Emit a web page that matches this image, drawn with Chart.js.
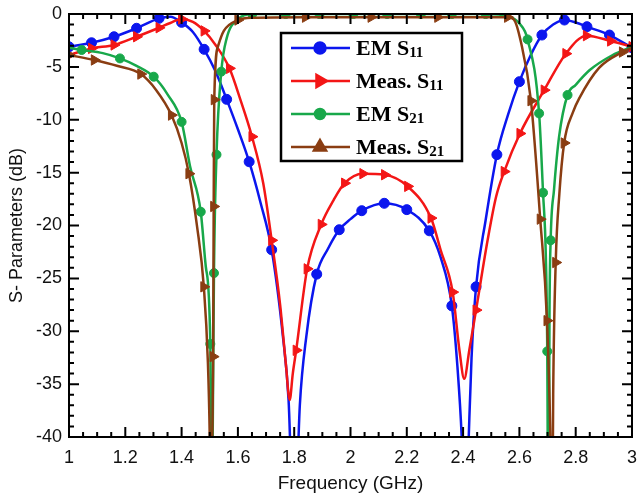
<!DOCTYPE html>
<html>
<head>
<meta charset="utf-8">
<script src="https://cdn.jsdelivr.net/npm/chart.js@4.4.0/dist/chart.umd.min.js"></script>
<style>
  html, body { margin: 0; padding: 0; background: #fff; }
  #wrap { width: 639px; height: 500px; }
</style>
</head>
<body>
<div id="wrap"><canvas id="sparams" width="639" height="500"></canvas></div>
<script>
// values, frequency in GHz, magnitude in dB
var emS11Freq = [1.00, 1.08, 1.16, 1.24, 1.32, 1.36, 1.40, 1.44, 1.48, 1.52, 1.56, 1.60, 1.64, 1.68, 1.72, 1.76, 1.78, 1.80, 1.82, 1.843, 1.88, 1.92, 1.96, 2.00, 2.04, 2.12, 2.20, 2.28, 2.32, 2.36, 2.38, 2.395, 2.408, 2.42, 2.43, 2.446, 2.48, 2.52, 2.56, 2.60, 2.64, 2.68, 2.72, 2.76, 2.80, 2.84, 2.92, 3.00];
var emS11Db   = [-3.1, -2.72, -2.15, -1.35, -0.41, -0.25, -0.79, -1.7, -3.34, -5.4, -8.07, -10.9, -13.97, -17.8, -22.3, -30.5, -36.5, -50, -37, -30.5, -24.6, -22.2, -20.4, -19.4, -18.6, -17.9, -18.5, -20.5, -23, -27.6, -33.4, -40, -50, -40, -32.5, -25.8, -19.5, -13.3, -9.5, -6.4, -3.9, -1.99, -1.0, -0.57, -0.8, -1.2, -1.99, -3.19];
var emS11Marks = [1.00, 1.08, 1.16, 1.24, 1.32, 1.40, 1.48, 1.56, 1.64, 1.72, 1.88, 1.96, 2.04, 2.12, 2.20, 2.28, 2.36, 2.446, 2.52, 2.60, 2.68, 2.76, 2.84, 2.92, 3.00];

var measS11Freq = [1.00, 1.08, 1.16, 1.24, 1.32, 1.36, 1.40, 1.44, 1.48, 1.52, 1.57, 1.61, 1.65, 1.69, 1.72, 1.75, 1.77, 1.784, 1.795, 1.807, 1.846, 1.896, 1.94, 1.979, 2.044, 2.121, 2.203, 2.286, 2.32, 2.363, 2.387, 2.404, 2.422, 2.446, 2.487, 2.517, 2.546, 2.602, 2.688, 2.765, 2.838, 2.924, 3.00];
var measS11Db   = [-3.88, -3.25, -2.93, -2.15, -1.3, -0.85, -0.47, -0.75, -1.6, -2.9, -5.14, -8.2, -11.6, -16, -21.4, -27.5, -33, -36.5, -34, -31.8, -24.1, -19.9, -17.6, -16.0, -15.1, -15.2, -16.3, -19.3, -22.3, -26.3, -31.8, -34.5, -31.8, -28.0, -21.4, -17.3, -14.9, -11.3, -7.2, -3.75, -2.05, -2.55, -3.09];
var measS11Marks = [1.00, 1.08, 1.16, 1.24, 1.32, 1.40, 1.48, 1.57, 1.65, 1.72, 1.807, 1.846, 1.896, 1.979, 2.044, 2.121, 2.203, 2.286, 2.363, 2.446, 2.546, 2.602, 2.688, 2.765, 2.838, 2.924, 3.00];

var emS21Freq = [1.00, 1.045, 1.12, 1.181, 1.24, 1.301, 1.35, 1.40, 1.43, 1.468, 1.486, 1.502, 1.507, 1.511, 1.515, 1.524, 1.541, 1.56, 1.60, 1.651, 1.77, 1.89, 2.01, 2.13, 2.25, 2.36, 2.48, 2.56, 2.60, 2.629, 2.67, 2.684, 2.694, 2.699, 2.703, 2.707, 2.711, 2.723, 2.741, 2.771, 2.80, 2.85, 2.93, 3.00];
var emS21Db   = [-3.2, -3.4, -3.7, -4.2, -4.9, -5.93, -7.6, -10.2, -14.4, -18.7, -23.9, -31.2, -50, -38, -24.5, -13.3, -5.45, -2.3, -0.5, 0, 0, 0, 0, 0, 0, 0, 0, -0.2, -0.9, -2.4, -9.4, -16.9, -23, -31.9, -52, -28, -21.4, -16.6, -11.6, -7.66, -6.7, -5.3, -3.9, -3.1];
var emS21Marks = [1.045, 1.181, 1.301, 1.40, 1.468, 1.502, 1.515, 1.524, 1.541, 1.651, 1.77, 1.89, 2.01, 2.13, 2.25, 2.36, 2.48, 2.629, 2.67, 2.684, 2.699, 2.711, 2.771];

var measS21Freq = [1.00, 1.09, 1.17, 1.255, 1.31, 1.364, 1.40, 1.426, 1.455, 1.479, 1.4935, 1.500, 1.505, 1.509, 1.512, 1.514, 1.516, 1.53, 1.55, 1.60, 1.65, 1.84, 2.073, 2.31, 2.558, 2.58, 2.605, 2.641, 2.674, 2.698, 2.710, 2.716, 2.72, 2.729, 2.742, 2.759, 2.79, 2.812, 2.883, 2.966, 3.00];
var measS21Db   = [-3.88, -4.35, -4.9, -5.68, -7.2, -9.56, -12.2, -15.1, -20.1, -25.8, -33, -40, -50, -40, -32.4, -18.2, -8.1, -3.0, -1.6, -0.57, -0.35, -0.3, -0.3, -0.3, -0.3, -0.5, -2.6, -8.2, -19.4, -29.0, -40, -52, -36, -23.5, -17, -12.2, -9.3, -8.0, -5.1, -3.6, -3.2];
var measS21Marks = [1.00, 1.09, 1.255, 1.364, 1.426, 1.479, 1.512, 1.514, 1.516, 1.60, 1.84, 2.073, 2.31, 2.558, 2.641, 2.674, 2.698, 2.729, 2.759, 2.966];

var seriesLabels = ['EM S11', 'Meas. S11', 'EM S21', 'Meas. S21'];
var xTicks = [1, 1.2, 1.4, 1.6, 1.8, 2, 2.2, 2.4, 2.6, 2.8, 3];
var yTicks = [0, -5, -10, -15, -20, -25, -30, -35, -40];

var BLUE = '#0b16ee', RED = '#f31616', GREEN = '#18a84a', BROWN = '#8a3d12';
var markerDefs = [
  { color: BLUE,  style: 'circle',   r: 5,   rot: 0 },
  { color: RED,   style: 'triangle', r: 6,   rot: 90 },
  { color: GREEN, style: 'circle',   r: 4.5, rot: 0 },
  { color: BROWN, style: 'triangle', r: 6,   rot: 90 }
];

function pts(freq, db) {
  return freq.map(function (f, i) { return { x: f, y: db[i] }; });
}

function makeSet(idx, freq, db, marks) {
  var m = markerDefs[idx];
  return {
    label: seriesLabels[idx],
    data: pts(freq, db),
    borderColor: m.color,
    backgroundColor: m.color,
    borderWidth: 2.5,
    cubicInterpolationMode: 'monotone',
    pointStyle: m.style,
    pointRotation: m.rot,
    pointBorderWidth: 1,
    pointRadius: function (c) { return c.raw && marks.indexOf(c.raw.x) >= 0 ? m.r : 0; },
    pointHoverRadius: function (c) { return c.raw && marks.indexOf(c.raw.x) >= 0 ? m.r : 0; },
    order: 4 - idx,
    fill: false
  };
}

// box frame with inward major / minor ticks on all four sides
var frameTicks = {
  id: 'frameTicks',
  afterDatasetsDraw: function (chart) {
    var ctx = chart.ctx, a = chart.chartArea;
    var xs = chart.scales.x, ys = chart.scales.y;
    ctx.save();
    ctx.strokeStyle = '#000';
    ctx.lineWidth = 2;
    ctx.beginPath();
    for (var i = 0; i <= 40; i++) {
      var px = xs.getPixelForValue(1 + i * 0.05);
      var len = (i % 4 === 0) ? 10 : 5;
      ctx.moveTo(px, a.bottom); ctx.lineTo(px, a.bottom - len);
      ctx.moveTo(px, a.top); ctx.lineTo(px, a.top + len);
    }
    for (var j = 0; j <= 40; j++) {
      var py = ys.getPixelForValue(-40 + j);
      var l2 = (j % 5 === 0) ? 10 : 5;
      ctx.moveTo(a.left, py); ctx.lineTo(a.left + l2, py);
      ctx.moveTo(a.right, py); ctx.lineTo(a.right - l2, py);
    }
    ctx.stroke();
    ctx.strokeRect(a.left, a.top, a.right - a.left, a.bottom - a.top);
    ctx.restore();
  }
};

// legend box like the original figure, with subscripts
var boxLegend = {
  id: 'boxLegend',
  afterDraw: function (chart) {
    var ctx = chart.ctx;
    var bx = 281, by = 33, bw = 181, bh = 128;
    ctx.save();
    ctx.fillStyle = '#fff';
    ctx.fillRect(bx, by, bw, bh);
    ctx.strokeStyle = '#000';
    ctx.lineWidth = 2.5;
    ctx.strokeRect(bx, by, bw, bh);
    seriesLabels.forEach(function (lab, k) {
      var m = markerDefs[k];
      var cy = 48 + k * 33;
      ctx.strokeStyle = m.color;
      ctx.fillStyle = m.color;
      ctx.lineWidth = 2.5;
      ctx.beginPath();
      ctx.moveTo(291, cy); ctx.lineTo(350, cy);
      ctx.stroke();
      Chart.helpers.drawPoint(ctx, {
        pointStyle: m.style,
        radius: m.style === 'triangle' ? 7 : m.r + 0.5,
        rotation: k === 3 ? 0 : m.rot,
        borderWidth: 1
      }, 320, cy);
      var parts = lab.match(/^(.*S)(\d+)$/);
      ctx.fillStyle = '#000';
      ctx.textBaseline = 'alphabetic';
      ctx.font = 'bold 22px "Liberation Serif", "Times New Roman", serif';
      ctx.fillText(parts[1], 356, cy + 7);
      var w = ctx.measureText(parts[1]).width;
      ctx.font = 'bold 15px "Liberation Serif", "Times New Roman", serif';
      ctx.fillText(parts[2], 356 + w, cy + 9);
    });
    ctx.restore();
  }
};

var tickFont = { family: '"Liberation Sans", Arial, sans-serif', size: 18 };

new Chart(document.getElementById('sparams'), {
  type: 'line',
  data: {
    datasets: [
      makeSet(0, emS11Freq, emS11Db, emS11Marks),
      makeSet(1, measS11Freq, measS11Db, measS11Marks),
      makeSet(2, emS21Freq, emS21Db, emS21Marks),
      makeSet(3, measS21Freq, measS21Db, measS21Marks)
    ]
  },
  options: {
    responsive: false,
    animation: false,
    events: [],
    layout: { padding: { top: 14, right: 6, left: 0, bottom: 0 } },
    plugins: { legend: { display: false }, tooltip: { enabled: false } },
    scales: {
      x: {
        type: 'linear', min: 1, max: 3,
        afterBuildTicks: function (s) { s.ticks = xTicks.map(function (v) { return { value: v }; }); },
        afterFit: function (s) { s.height = 63; s.paddingLeft = 0; s.paddingRight = 0; },
        grid: { display: false, drawTicks: false, tickLength: 0 },
        border: { display: false },
        ticks: { color: '#111', font: tickFont, padding: 10, maxRotation: 0,
                 callback: function (v) { return String(Math.round(v * 10) / 10); } },
        title: { display: true, text: 'Frequency (GHz)', color: '#111',
                 font: { family: '"Liberation Sans", Arial, sans-serif', size: 19 },
                 padding: { top: 0, bottom: 5 } }
      },
      y: {
        type: 'linear', min: -40, max: 0,
        afterBuildTicks: function (s) { s.ticks = yTicks.map(function (v) { return { value: v }; }); },
        afterFit: function (s) { s.width = 69; s.paddingTop = 0; s.paddingBottom = 0; },
        grid: { display: false, drawTicks: false, tickLength: 0 },
        border: { display: false },
        ticks: { color: '#111', font: tickFont, padding: 7,
                 callback: function (v) { return String(v); } },
        title: { display: true, text: 'S- Parameters (dB)', color: '#111',
                 font: { family: '"Liberation Sans", Arial, sans-serif', size: 18 },
                 padding: { top: 6, bottom: 0 } }
      }
    }
  },
  plugins: [frameTicks, boxLegend]
});
</script>
</body>
</html>
